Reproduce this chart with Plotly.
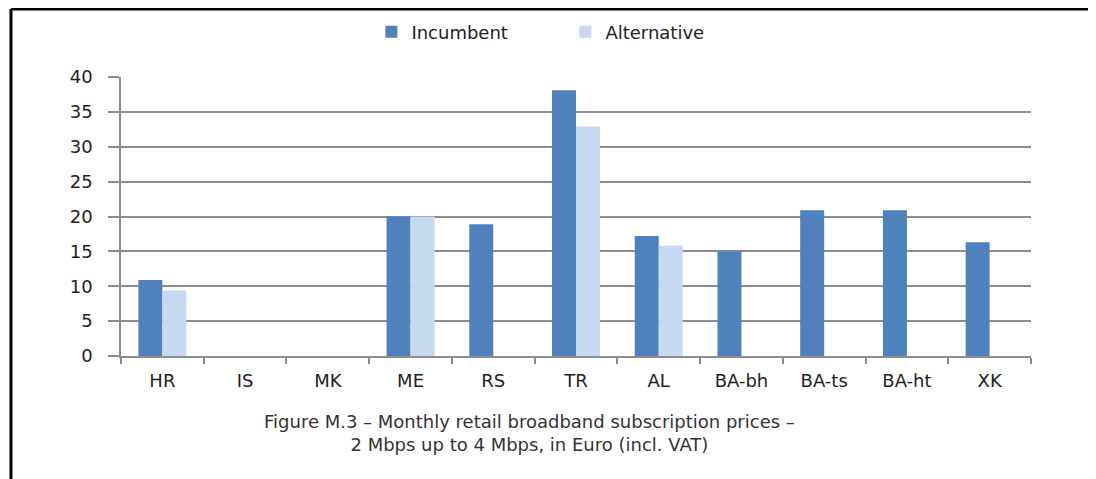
import plotly.graph_objects as go

countries = ['HR', 'IS', 'MK', 'ME', 'RS', 'TR', 'AL', 'BA-bh', 'BA-ts', 'BA-ht', 'XK']
incumbent = [10.9, None, None, 20.0, 18.9, 38.1, 17.2, 15.0, 20.9, 20.9, 16.3]
alternative = [9.4, None, None, 20.0, None, 32.9, 15.8, None, None, None, None]
y_ticks = [0, 5, 10, 15, 20, 25, 30, 35, 40]

font = 'DejaVu Sans, Liberation Sans, Arial, sans-serif'
grey = '#8c8c8c'

fig = go.Figure()
fig.add_trace(go.Bar(x=countries, y=incumbent, name='Incumbent',
                     marker=dict(color='#4f81bd', line=dict(width=0))))
fig.add_trace(go.Bar(x=countries, y=alternative, name='Alternative',
                     marker=dict(color='#c6d9f1', line=dict(width=0))))

# frame around the figure (top + left edges)
frame = dict(color='black', width=3)
fig.add_shape(type='line', xref='paper', yref='paper',
              x0=-0.1209, x1=1.2, y0=1.2437, y1=1.2437, line=frame)
fig.add_shape(type='line', xref='paper', yref='paper',
              x0=-0.1209, x1=-0.1209, y0=1.2437, y1=-0.45, line=frame)

fig.add_annotation(
    text='Figure M.3 – Monthly retail broadband subscription prices –<br>'
         '2 Mbps up to 4 Mbps, in Euro (incl. VAT)',
    xref='paper', yref='paper', x=0.449, y=-0.276,
    xanchor='center', yanchor='middle',
    showarrow=False, align='center',
    font=dict(family=font, size=18, color='#333333'))

# the page has an 8px body margin, so everything is shifted up/left by 8px
fig.update_layout(
    width=1088, height=471,
    margin=dict(l=113, r=65, t=69, b=123),
    paper_bgcolor='white', plot_bgcolor='white',
    barmode='group', bargap=0.42, bargroupgap=0,
    font=dict(family=font, size=18, color='#222222'),
    showlegend=True,
    legend=dict(orientation='h', xref='container', yref='container',
                x=0.334, xanchor='left', y=0.949, yanchor='middle',
                font=dict(size=18), itemwidth=30, entrywidth=149,
                traceorder='normal'),
    xaxis=dict(type='category', tickson='boundaries', ticks='outside', ticklen=6,
               tickcolor=grey, tickwidth=1.5, showline=True, linecolor=grey, linewidth=1.5,
               showgrid=False, tickfont=dict(size=18), ticklabelstandoff=8,
               automargin=False, fixedrange=True),
    yaxis=dict(range=[0, 40], tickvals=y_ticks, ticks='outside', ticklen=11,
               tickcolor=grey, tickwidth=1.5, showline=True, linecolor=grey, linewidth=1.5,
               showgrid=True, gridcolor=grey, gridwidth=1.5, zeroline=False,
               tickfont=dict(size=18), ticklabelstandoff=12, automargin=False,
               fixedrange=True),
)

fig.write_html('out.html')
